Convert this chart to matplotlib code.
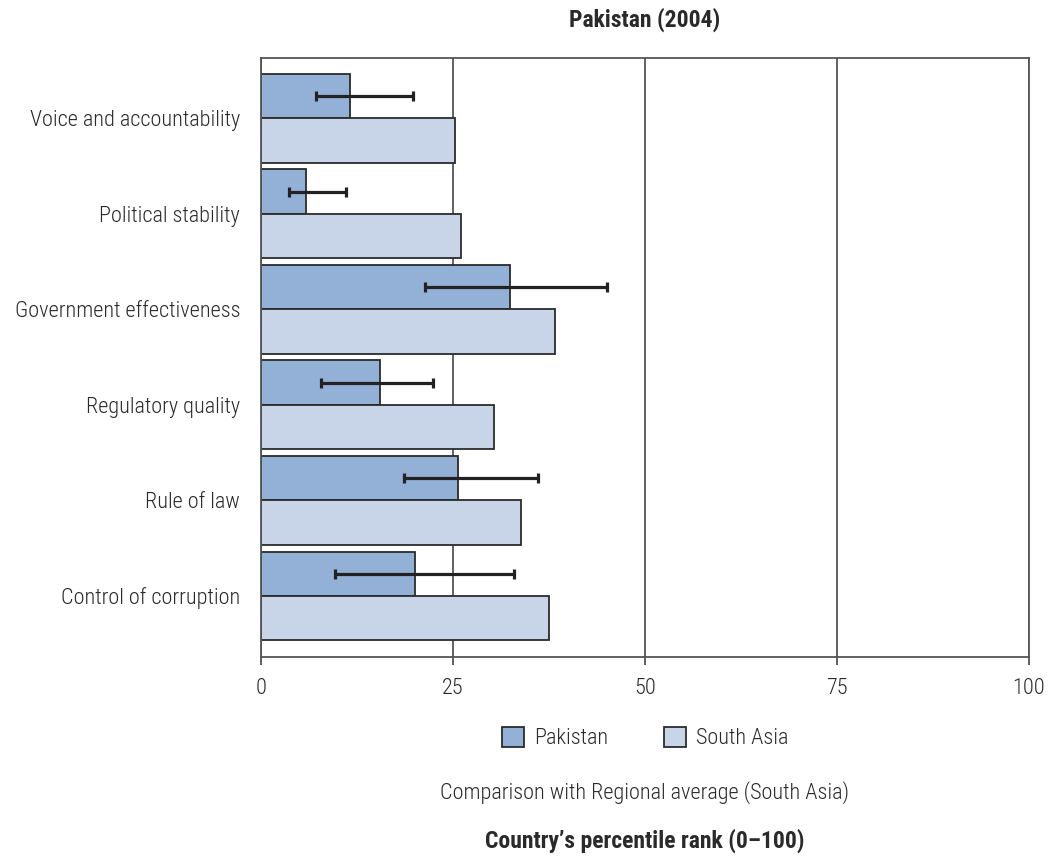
import matplotlib
matplotlib.use("Agg")
import matplotlib.pyplot as plt
from matplotlib.patches import Patch
import numpy as np

plt.rcParams['font.family'] = ['Roboto Condensed', 'DejaVu Sans']
plt.rcParams['font.weight'] = 'light'

categories = ["Voice and accountability", "Political stability", "Government effectiveness",
              "Regulatory quality", "Rule of law", "Control of corruption"]
pakistan = [11.6, 5.8, 32.4, 15.5, 25.6, 20.0]
pak_low = [7.1, 3.7, 21.4, 7.8, 18.6, 9.7]
pak_high = [19.8, 11.1, 45.0, 22.4, 36.1, 32.9]
south_asia = [25.2, 26.1, 38.3, 30.4, 33.9, 37.5]
xticks = [0, 25, 50, 75, 100]
series_names = ["Pakistan", "South Asia"]

c_pak = "#93B1D7"
c_sa = "#C8D5E8"
edge = "#2b2b2b"
txtc = "#2a2a2a"
fs = 16
fsb = 17

fig = plt.figure(figsize=(10.48, 8.56), dpi=100)
ax = fig.add_axes([261/1048, 1-657/856, (1029-261)/1048, (657-58)/856])

y = np.arange(len(categories))
h = 0.464
ax.barh(y - h/2, pakistan, height=h, color=c_pak, edgecolor=edge, linewidth=1.3, zorder=2)
ax.barh(y + h/2, south_asia, height=h, color=c_sa, edgecolor=edge, linewidth=1.3, zorder=2)

lo = np.array(pak_low)
hi = np.array(pak_high)
mid = (lo + hi) / 2
ax.errorbar(mid, y - h/2, xerr=[mid - lo, hi - mid],
            fmt='none', ecolor="#222222", elinewidth=2.3, capsize=3.3, capthick=2.3, zorder=3)

ax.set_xlim(0, 100)
ax.set_ylim(len(categories) - 1 + 0.64, -0.63)
ax.set_xticks(xticks)
ax.set_xticklabels([str(t) for t in xticks], fontsize=fs, color=txtc)
ax.set_yticks(y)
ax.set_yticklabels(categories, fontsize=fs, color=txtc)
ax.tick_params(axis='y', length=0, pad=15)
ax.tick_params(axis='x', length=6, width=1.2, color="#444444", pad=9)

ax.xaxis.grid(True, color="#555555", linewidth=1.3)
ax.set_axisbelow(True)
for s in ax.spines.values():
    s.set_color("#555555")
    s.set_linewidth(1.3)

fig.text(645/1048, 1-20/856, "Pakistan (2004)", ha='center', va='center',
         fontsize=fsb, fontweight='bold', color=txtc)

handles = [Patch(facecolor=c_pak, edgecolor=edge, linewidth=1.3),
           Patch(facecolor=c_sa, edgecolor=edge, linewidth=1.3)]
fig.legend(handles, series_names, loc='center', bbox_to_anchor=(645/1048, 1-738/856),
           ncol=2, frameon=False, fontsize=fs, handlelength=1.0, handleheight=1.0,
           handletextpad=0.45, columnspacing=2.5, labelcolor=txtc)

fig.text(645/1048, 1-793/856, "Comparison with Regional average (South Asia)", ha='center', va='center',
         fontsize=fs, color=txtc)
fig.text(645/1048, 1-841/856, "Country\u2019s percentile rank (0\u2013100)", ha='center', va='center',
         fontsize=fsb, fontweight='bold', color=txtc)

fig.savefig("out.png", dpi=100)
